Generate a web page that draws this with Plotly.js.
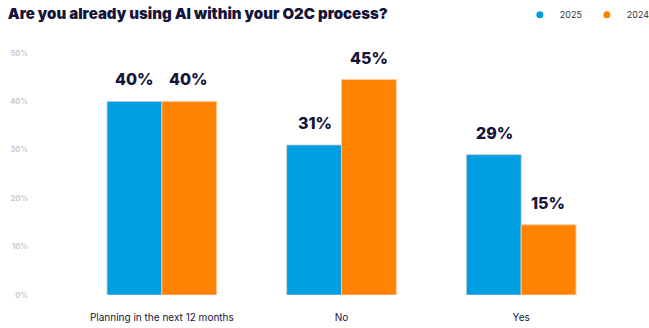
<!DOCTYPE html>
<html>
<head>
<meta charset="utf-8">
<script src="https://cdn.plot.ly/plotly-3.0.1.min.js"></script>
<style>html,body{margin:0;padding:0;background:#fff;}#chart{width:649px;height:328px;}</style>
</head>
<body>
<div id="chart"></div>
<script>
const categories = ["Planning in the next 12 months", "No", "Yes"];
const values2025 = [40, 31, 29];
const values2024 = [40, 44.5, 14.5];
const labels2025 = ["40%", "31%", "29%"];
const labels2024 = ["40%", "45%", "15%"];
const seriesNames = ["2025", "2024"];
const yTickVals = [0, 10, 20, 30, 40, 50];
const yTickText = ["0%", "10%", "20%", "30%", "40%", "50%"];

const navy = "#15143a";
const blue = "#009FE3";
const orange = "#FF8300";

const traces = [
  {type: "bar", name: seriesNames[0], x: categories, y: values2025, showlegend: false,
   marker: {color: blue, line: {color: "rgba(200,200,200,0.8)", width: 1}}, hoverinfo: "none"},
  {type: "bar", name: seriesNames[1], x: categories, y: values2024, showlegend: false,
   marker: {color: orange, line: {color: "rgba(255,200,160,0.9)", width: 1}}, hoverinfo: "none"},
  {type: "scatter", mode: "markers", name: seriesNames[0], x: [null], y: [null],
   marker: {color: blue, size: 7, symbol: "circle"}, hoverinfo: "none"},
  {type: "scatter", mode: "markers", name: seriesNames[1], x: [null], y: [null],
   marker: {color: orange, size: 7, symbol: "circle"}, hoverinfo: "none"}
];

const labelFont = {family: "Inter, sans-serif", size: 16, color: navy, weight: 800};
const annotations = [];
categories.forEach((c, i) => {
  annotations.push({x: c, y: values2025[i], xref: "x", yref: "y", text: labels2025[i],
    showarrow: false, xshift: -27, yshift: 22, font: labelFont});
  annotations.push({x: c, y: values2024[i], xref: "x", yref: "y", text: labels2024[i],
    showarrow: false, xshift: 27, yshift: 22, font: labelFont});
});

const layout = {
  width: 649, height: 328,
  margin: {l: 72, r: 38, t: 53, b: 33},
  paper_bgcolor: "#fff", plot_bgcolor: "#fff",
  title: {text: "Are you already using AI within your O2C process?", x: 0.012, xanchor: "left",
    y: 0.957, yanchor: "middle",
    font: {family: "Inter, sans-serif", size: 15, color: navy, weight: 900}},
  barmode: "group", bargap: 0.39, bargroupgap: 0,
  showlegend: true,
  legend: {orientation: "h", xref: "container", yref: "container", x: 0.801, xanchor: "left",
    y: 0.955, yanchor: "middle", entrywidth: 22, entrywidthmode: "pixels",
    font: {family: "Inter, sans-serif", size: 9, color: "#333"}, itemwidth: 30,
    traceorder: "normal", tracegroupgap: 0},
  xaxis: {showgrid: false, zeroline: false, showline: false, ticks: "",
    ticklabelstandoff: 15,
    tickfont: {family: "Inter, sans-serif", size: 10, color: navy}},
  yaxis: {range: [0, 50], showgrid: false, zeroline: false, showline: false, ticks: "",
    tickvals: yTickVals, ticktext: yTickText, ticklabelstandoff: 43,
    tickfont: {family: "Inter, sans-serif", size: 7.5, color: "#c8c8d2", weight: 700}},
  annotations: annotations
};

Plotly.newPlot("chart", traces, layout, {staticPlot: true, displayModeBar: false});
</script>
</body>
</html>
